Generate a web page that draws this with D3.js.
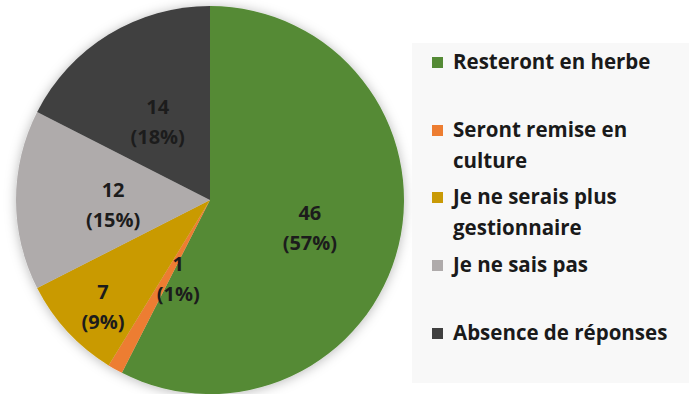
<!DOCTYPE html>
<html>
<head>
<meta charset="utf-8">
<script src="https://cdn.jsdelivr.net/npm/d3@7"></script>
<style>
  html, body { margin: 0; padding: 0; background: #ffffff; }
  svg { display: block; }
  text { font-family: "Open Sans", Lato, sans-serif; font-weight: bold; }
</style>
</head>
<body>
<svg id="chart" width="694" height="394"></svg>
<script>
// Devenir des parcelles : réponses des exploitants
const categories = [
  "Resteront en herbe",
  "Seront remise en culture",
  "Je ne serais plus gestionnaire",
  "Je ne sais pas",
  "Absence de réponses"
];
const values = [46, 1, 7, 12, 14];
const percentLabels = ["57%", "1%", "9%", "15%", "18%"];
const legendLines = [
  ["Resteront en herbe"],
  ["Seront remise en", "culture"],
  ["Je ne serais plus", "gestionnaire"],
  ["Je ne sais pas"],
  ["Absence de réponses"]
];
const colors = ["#548a35", "#ed7d31", "#c99a06", "#afabab", "#404040"];

const svg = d3.select("#chart");

// Pie geometry
const cx = 210, cy = 200, R = 194;

const defs = svg.append("defs");
const shadow = defs.append("filter").attr("id", "pieShadow")
  .attr("x", "-20%").attr("y", "-20%").attr("width", "140%").attr("height", "140%");
shadow.append("feDropShadow")
  .attr("dx", 0).attr("dy", 1).attr("stdDeviation", 6)
  .attr("flood-color", "#000").attr("flood-opacity", 0.28);

const pie = d3.pie().sort(null).value(d => d);
const arcs = pie(values);
const arc = d3.arc().innerRadius(0).outerRadius(R);

const g = svg.append("g").attr("transform", `translate(${cx},${cy})`);
g.append("g").attr("filter", "url(#pieShadow)")
  .selectAll("path")
  .data(arcs)
  .enter().append("path")
  .attr("d", arc)
  .attr("fill", (d, i) => colors[i]);

// Label placement (best-fit style): radius fraction and angular nudge per slice
const labelRadius = [0.535, 0.44, 0.78, 0.5, 0.485];
const labelNudge = [0.04, -0.13, -0.04, -0.05, -0.04];

const labels = g.append("g").selectAll("g")
  .data(arcs)
  .enter().append("g")
  .attr("transform", (d, i) => {
    const a = (d.startAngle + d.endAngle) / 2 + labelNudge[i];
    const r = R * labelRadius[i];
    return `translate(${r * Math.sin(a)},${-r * Math.cos(a)})`;
  });
labels.append("text")
  .attr("text-anchor", "middle")
  .attr("y", -15).attr("dy", "0.35em")
  .attr("font-size", 20).attr("fill", "#1c1c1c")
  .text(d => d.data);
labels.append("text")
  .attr("text-anchor", "middle")
  .attr("y", 15).attr("dy", "0.35em")
  .attr("font-size", 20).attr("fill", "#1c1c1c")
  .text((d, i) => `(${percentLabels[i]})`);

// Legend
const legend = svg.append("g");
legend.append("rect")
  .attr("x", 412).attr("y", 43).attr("width", 277).attr("height", 340)
  .attr("fill", "#f8f8f8");

const itemY = [62, 130, 197, 265, 333];
const lineGap = 31;
const items = legend.selectAll("g.item")
  .data(categories)
  .enter().append("g")
  .attr("class", "item")
  .attr("transform", (d, i) => `translate(0,${itemY[i]})`);
items.append("rect")
  .attr("x", 432).attr("y", -5).attr("width", 11).attr("height", 11)
  .attr("fill", (d, i) => colors[i]);
items.each(function(d, i) {
  const t = d3.select(this);
  legendLines[i].forEach((line, j) => {
    t.append("text")
      .attr("x", 453).attr("y", j * lineGap).attr("dy", "0.35em")
      .attr("font-size", 20.5).attr("fill", "#1a1a1a")
      .text(line);
  });
});
</script>
</body>
</html>
